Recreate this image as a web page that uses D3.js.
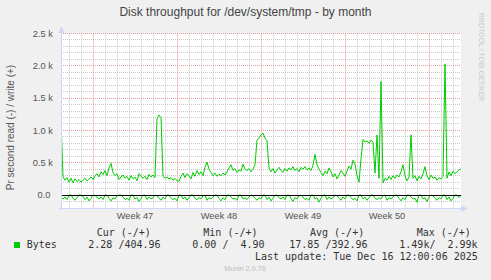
<!DOCTYPE html>
<html>
<head>
<meta charset="utf-8">
<script src="https://cdnjs.cloudflare.com/ajax/libs/d3/7.8.5/d3.min.js"></script>
<style>
body { margin: 0; background: #f0f0f0; }
text { font-family: "Liberation Sans", Arial, sans-serif; }
.mono { font-family: "DejaVu Sans Mono", monospace; font-size: 10px; fill: #333; white-space: pre; }
</style>
</head>
<body>
<svg id="chart" width="491" height="280"></svg>
<script>
var startTime = Date.UTC(2025, 10, 14, 8)
var stepHours = 4

// write (+), one value every 4 hours
var writeBytes = [1150,280,230,270,200,260,190,250,210,240,200,230,260,220,250,280,240,
	300,330,280,360,320,380,300,420,490,350,300,330,240,280,
	310,260,290,230,300,250,280,220,330,300,260,290,240,320,280,310,270,
	1180,1240,1200,290,
	260,280,250,270,230,260,220,210,290,340,270,330,300,250,350,290,380,320,360,300,
	430,510,400,350,300,340,290,320,300,340,310,360,420,470,380,410,350,390,370,480,400,380,410,360,400,470,
	850,880,930,960,880,840,420,360,
	410,340,390,430,380,350,410,370,420,390,440,380,410,360,430,400,440,390,420,380,460,630,470,
	400,350,300,370,330,420,360,280,330,250,310,380,340,290,370,450,400,540,480,300,200,
	560,860,820,840,800,850,820,340,930,260,1760,190,
	260,230,290,240,300,260,310,280,360,470,300,220,280,930,260,
	300,220,290,250,330,440,300,240,310,260,280,230,270,250,290,2030,260,360,300,370,330,360,390,405]

// read (-), same times
var readBytes = [40,60,30,70,0,0,50,80,40,0,0,20,70,30,90,50,0,0,40,60,
	30,70,0,0,50,90,40,60,10,0,0,30,70,50,80,0,0,60,40,100,
	50,0,0,70,30,60,40,0,10,50,80,30,60,0,0,40,70,50,90,0,
	0,60,30,80,40,0,0,50,70,40,60,10,0,80,40,60,30,0,0,50,
	90,40,70,0,0,30,60,50,80,0,0,60,40,70,30,0,10,50,80,40,
	60,0,0,70,30,90,50,0,0,40,60,30,70,0,0,50,100,40,60,10,
	0,30,70,50,80,0,0,60,40,110,50,0,0,70,30,60,40,0,10,50,
	80,30,60,0,0,40,70,50,90,0,0,60,30,80,40,0,0,50,70,40,
	60,10,0,80,40,60,30,0,0,50,90,40,70,0,0,30,60,50,110,0,
	0,60,40,100,30,0,10,50,80,40,60,0,0,70,30,90,50,0,0,40,
	2]

var yTicks = [0, 500, 1000, 1500, 2000, 2500]
var yTickLabels = ["0.0 ", "0.5 k", "1.0 k", "1.5 k", "2.0 k", "2.5 k"]
var weekStarts = [Date.UTC(2025, 10, 17), Date.UTC(2025, 10, 24), Date.UTC(2025, 11, 1), Date.UTC(2025, 11, 8), Date.UTC(2025, 11, 15)]
var weekLabels = ["Week 47", "Week 48", "Week 49", "Week 50"]
var legendHeads = ["Cur (-/+)", "Min (-/+)", "Avg (-/+)", "Max (-/+)"]
var legendValues = ["2.28 /404.96", "0.00 /  4.90", "17.85 /392.96", "1.49k/  2.99k"]

var svg = d3.select("#chart")
var times = writeBytes.map(function(d, i) { return new Date(startTime + i * stepHours * 3600000) })
var endTime = times[times.length - 1]

var x = d3.scaleUtc().domain([times[0], endTime]).range([61, 461])
var y = d3.scaleLinear().domain([-200, 2500]).range([208, 33.5])
function snap(v) { return Math.floor(v) + 0.5 }

svg.append("rect").attr("width", 491).attr("height", 280).attr("fill", "#f0f0f0")
svg.append("rect").attr("x", 61).attr("y", 33.5).attr("width", 400).attr("height", 174.5).attr("fill", "#fff")

// minor grid
var minorY = d3.range(-100, 2500, 100).filter(function(v) { return v % 500 != 0 })
var weekSet = weekStarts.map(function(d) { return +d })
var minorX = d3.utcDay.range(times[0], endTime).filter(function(d) { return weekSet.indexOf(+d) < 0 })

var grid = svg.append("g").attr("fill", "none").attr("stroke-width", 1).attr("stroke-dasharray", "1,1")
grid.selectAll("line.my").data(minorY).join("line")
	.attr("x1", 61).attr("x2", 461)
	.attr("y1", function(d) { return snap(y(d)) }).attr("y2", function(d) { return snap(y(d)) })
	.attr("stroke", "#c8c8c8")
grid.selectAll("line.mx").data(minorX).join("line")
	.attr("x1", function(d) { return snap(x(d)) }).attr("x2", function(d) { return snap(x(d)) })
	.attr("y1", 33.5).attr("y2", 208)
	.attr("stroke", "#c8c8c8")

var mgrid = svg.append("g").attr("fill", "none").attr("stroke-width", 1).attr("stroke-dasharray", "1,1")
mgrid.selectAll("line").data(yTicks).join("line")
	.attr("x1", 61).attr("x2", 461)
	.attr("y1", function(d) { return snap(y(d)) }).attr("y2", function(d) { return snap(y(d)) })
	.attr("stroke", "#e39a9a")
mgrid.selectAll("line.wx").data(weekStarts).join("line")
	.attr("x1", function(d) { return snap(x(d)) }).attr("x2", function(d) { return snap(x(d)) })
	.attr("y1", 33.5).attr("y2", 208)
	.attr("stroke", "#e39a9a")

// data lines
svg.append("clipPath").attr("id", "plot").append("rect")
	.attr("x", 61).attr("y", 33).attr("width", 400).attr("height", 175)

var line = d3.line()
	.x(function(d, i) { return x(times[i]) })
	.y(function(d) { return y(d) })

svg.append("path").datum(readBytes.map(function(v) { return -v }))
	.attr("clip-path", "url(#plot)")
	.attr("d", line).attr("fill", "none").attr("stroke", "#00cc00").attr("stroke-width", 1)
svg.append("path").datum(writeBytes)
	.attr("clip-path", "url(#plot)")
	.attr("d", line).attr("fill", "none").attr("stroke", "#00cc00").attr("stroke-width", 1)

svg.append("line").attr("x1", 61).attr("x2", 461)
	.attr("y1", snap(y(0))).attr("y2", snap(y(0)))
	.attr("stroke", "#000").attr("stroke-width", 1)

// axes with arrows
var axisColor = "#cfd6f8"
svg.append("line").attr("x1", 61.5).attr("x2", 61.5).attr("y1", 210).attr("y2", 30).attr("stroke", axisColor)
svg.append("path").attr("d", "M61.5,26L58.5,33L64.5,33Z").attr("fill", axisColor)
svg.append("line").attr("x1", 59).attr("x2", 464).attr("y1", 208.5).attr("y2", 208.5).attr("stroke", axisColor)
svg.append("path").attr("d", "M468,208.5L461,205.5L461,211.5Z").attr("fill", axisColor)

// tick labels
svg.append("g").selectAll("text").data(yTicks).join("text")
	.attr("x", 53).attr("y", function(d) { return y(d) })
	.attr("dy", "0.35em").attr("text-anchor", "end")
	.style("white-space", "pre")
	.attr("font-size", 9.3).attr("fill", "#555")
	.text(function(d, i) { return yTickLabels[i] })

svg.append("g").selectAll("text").data(weekLabels).join("text")
	.attr("x", function(d, i) { return x(weekStarts[i] + 3.5 * 86400000) })
	.attr("y", 218.5).attr("text-anchor", "middle")
	.attr("font-size", 9.3).attr("fill", "#555")
	.text(function(d) { return d })

// titles
svg.append("text").attr("x", 245.5).attr("y", 16).attr("text-anchor", "middle")
	.attr("font-size", 12).attr("fill", "#444")
	.text("Disk throughput for /dev/system/tmp - by month")
svg.append("text").attr("transform", "translate(14,127.5) rotate(-90)").attr("text-anchor", "middle")
	.attr("font-size", 10).attr("fill", "#555")
	.text("Pr second read (-) / write (+)")
svg.append("text").attr("transform", "translate(479,13) rotate(90)")
	.attr("font-size", 7).attr("fill", "#c8c8c8")
	.text("RRDTOOL / TOBI OETIKER")
svg.append("text").attr("x", 245).attr("y", 271).attr("text-anchor", "middle")
	.attr("font-size", 7.2).attr("fill", "#bbb")
	.text("Munin 2.0.76")

// legend
var headX = [96.7, 203.3, 310, 416.7]
var valX = [88.3, 192.3, 289.3, 399.3]
svg.append("g").selectAll("text").data(legendHeads).join("text").attr("class", "mono")
	.attr("x", function(d, i) { return headX[i] }).attr("y", 235.7)
	.text(function(d) { return d })
svg.append("rect").attr("x", 14).attr("y", 242).attr("width", 6).attr("height", 6).attr("fill", "#00cc00")
svg.append("text").attr("class", "mono").attr("x", 26.7).attr("y", 247.7).text("Bytes")
svg.append("g").selectAll("text").data(legendValues).join("text").attr("class", "mono")
	.attr("x", function(d, i) { return valX[i] }).attr("y", 247.7)
	.text(function(d) { return d })
svg.append("text").attr("class", "mono").attr("x", 255).attr("y", 259.7)
	.text("Last update: Tue Dec 16 12:00:06 2025")
</script>
</body>
</html>
